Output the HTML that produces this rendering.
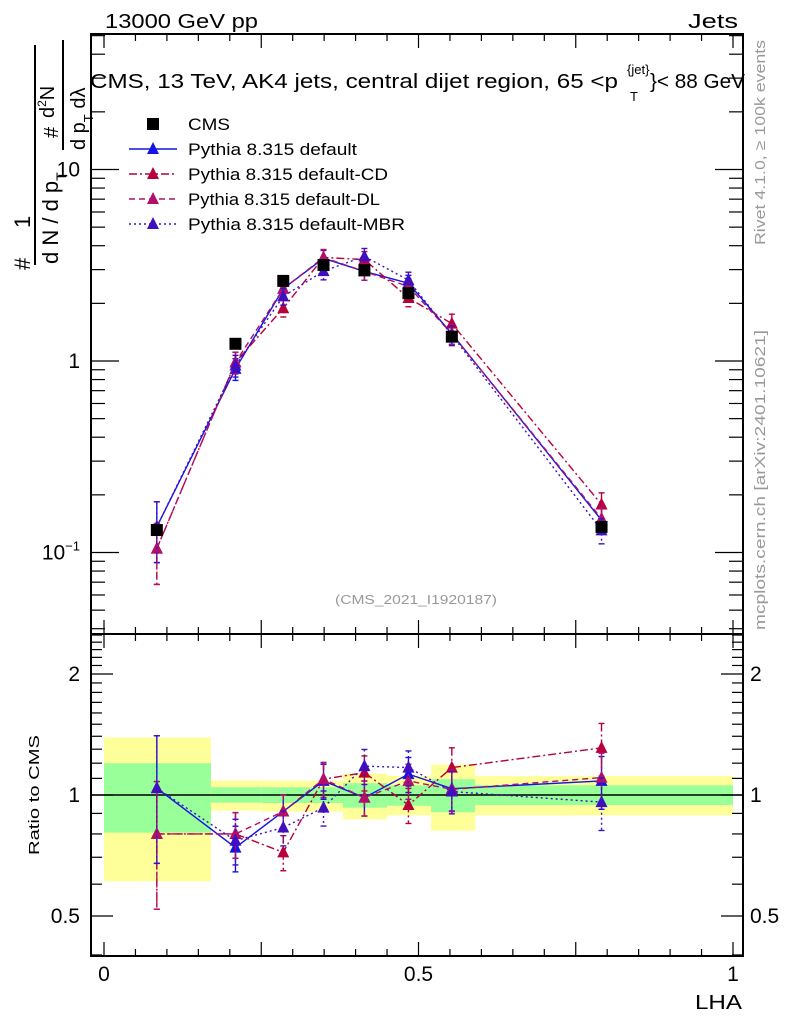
<!DOCTYPE html>
<html><head><meta charset="utf-8"><style>
html,body{margin:0;padding:0;background:#fff;}
svg{display:block;font-family:"Liberation Sans",Arial,sans-serif;}
</style></head><body>
<svg id="c" width="786" height="1024" viewBox="0 0 786 1024" xmlns="http://www.w3.org/2000/svg">
<text x="105" y="28" font-size="20" textLength="153" lengthAdjust="spacingAndGlyphs">13000 GeV pp</text>
<text x="688" y="28" font-size="20" textLength="50" lengthAdjust="spacingAndGlyphs">Jets</text>
<g font-size="20">
<text x="90" y="88" textLength="528" lengthAdjust="spacingAndGlyphs">CMS, 13 TeV, AK4 jets, central dijet region, 65 &lt;p</text>
<text x="627" y="74" font-size="13">{jet}</text>
<text x="630" y="101" font-size="13">T</text>
<text x="650" y="88" textLength="95" lengthAdjust="spacingAndGlyphs">}&lt; 88 GeV</text>
</g>
<text x="335" y="604" font-size="13" fill="#999" textLength="162" lengthAdjust="spacingAndGlyphs">(CMS_2021_I1920187)</text>
<text transform="translate(765,245) rotate(-90)" font-size="15" fill="#999" textLength="205" lengthAdjust="spacingAndGlyphs">Rivet 4.1.0, ≥ 100k events</text>
<text transform="translate(765,630) rotate(-90)" font-size="15" fill="#999" textLength="300" lengthAdjust="spacingAndGlyphs">mcplots.cern.ch [arXiv:2401.10621]</text>
<g font-size="22">
<text transform="translate(30,270) rotate(-90)" text-anchor="start">#</text>
<text transform="translate(30,228) rotate(-90)" text-anchor="start">1</text>
<line x1="35" y1="45" x2="35" y2="265" stroke="#000" stroke-width="2"/>
<text transform="translate(58,264) rotate(-90)">d N / d p<tspan font-size="14" dy="8">T</tspan></text>
<text transform="translate(58,138) rotate(-90)" font-size="20">#</text>
<line x1="63" y1="40" x2="63" y2="150" stroke="#000" stroke-width="2"/>
<text transform="translate(54,118) rotate(-90)" font-size="20">d<tspan font-size="12" dy="-8">2</tspan><tspan dy="8">N</tspan></text>
<text transform="translate(85,150) rotate(-90)" font-size="20">d p<tspan font-size="13" dy="8">T</tspan><tspan dy="-8"> dλ</tspan></text>
</g>
<text transform="translate(39,855) rotate(-90)" font-size="15" textLength="120" lengthAdjust="spacingAndGlyphs">Ratio to CMS</text>
<text x="695" y="1009" font-size="20" textLength="47" lengthAdjust="spacingAndGlyphs">LHA</text>
<g id="bands"></g><g id="grid"></g><g id="marks"></g><g id="legend"></g>
</svg>
<script>
const edges=[0,0.17,0.25,0.32,0.38,0.45,0.52,0.59,1.0];
const yelLo=[0.61,0.915,0.91,0.91,0.87,0.89,0.815,0.89];
const yelHi=[1.39,1.086,1.085,1.085,1.13,1.116,1.19,1.114];
const grnLo=[0.806,0.957,0.955,0.955,0.93,0.94,0.906,0.944];
const grnHi=[1.20,1.045,1.045,1.045,1.07,1.057,1.095,1.057];
const xs=[0.084,0.209,0.285,0.349,0.414,0.484,0.553,0.791];
const cms=[0.131,1.23,2.62,3.17,2.98,2.26,1.34,0.136];
const rDefault=[1.04,0.74,0.91,1.084,0.985,1.127,1.037,1.084];
const rCD=[0.80,0.80,0.72,1.095,1.137,0.944,1.17,1.31];
const rDL=[0.80,0.80,0.91,1.095,0.985,1.084,1.033,1.105];
const rMBR=[1.04,0.77,0.83,0.93,1.18,1.17,1.02,0.96];
const relErr=[0.35,0.13,0.1,0.1,0.1,0.1,0.12,0.15];
const X0=91,X1=743,T=34,M=634,B=956;
const NS="http://www.w3.org/2000/svg";
function xp(v){return 104+629*v;}
function ym(v){return 361-191.5*Math.log10(v);}
function yr(v){return 795-121*Math.log2(v);}
function mk(tag,at,par){const e=document.createElementNS(NS,tag);for(const k in at)e.setAttribute(k,at[k]);document.getElementById(par).appendChild(e);return e;}
for(let i=0;i<edges.length-1;i++){
 const y=mk('rect',{x:xp(edges[i]),y:yr(yelHi[i]),width:xp(edges[i+1])-xp(edges[i]),height:yr(yelLo[i])-yr(yelHi[i]),fill:'#ffff99'},'bands');
 
 
 const g=mk('rect',{x:xp(edges[i]),y:yr(grnHi[i]),width:xp(edges[i+1])-xp(edges[i]),height:yr(grnLo[i])-yr(grnHi[i]),fill:'#99ff99'},'bands');
 
 
}
mk('line',{x1:X0,x2:X1,y1:yr(1),y2:yr(1),stroke:'#000','stroke-width':1.5},'grid');
for(const [a,b] of [[T,M],[M,B]]){const f=mk('rect',{x:X0,y:a,width:X1-X0,height:b-a,fill:'none',stroke:'#000','stroke-width':2},'grid');
 
 }
for(let i=0;i<=20;i++){const v=i*0.05;const L=(i%5==0)?14:7;const x=xp(v);
 for(const [y,d] of [[T,1],[M,-1],[M,1],[B,-1]]) mk('line',{x1:x,x2:x,y1:y,y2:y+d*L,stroke:'#000','stroke-width':1.2},'grid');}
[['0',0],['0.5',0.5],['1',1]].forEach(([t,v])=>{const e=mk('text',{x:xp(v),y:981,'font-size':21,'text-anchor':'middle'},'grid');e.textContent=t;
 
 });
for(let d=-2;d<=1;d++)for(let m=1;m<10;m++){const v=m*Math.pow(10,d);const y=ym(v);if(y<T||y>M)continue;const L=m==1?28:14;
 mk('line',{x1:X0,x2:X0+L,y1:y,y2:y,stroke:'#000','stroke-width':1.2},'grid');mk('line',{x1:X1,x2:X1-L,y1:y,y2:y,stroke:'#000','stroke-width':1.2},'grid');}
[['10',10],['1',1]].forEach(([t,v])=>{const e=mk('text',{x:80,y:ym(v)+7,'font-size':21,'text-anchor':'end'},'grid');e.textContent=t;
 
 });
{const e=mk('text',{x:80,y:ym(0.1)+7,'font-size':21,'text-anchor':'end'},'grid');e.innerHTML='10<tspan font-size="13" dy="-9">−1</tspan>';
 
 }
for(const v of [0.4,0.5,0.6,0.7,0.8,0.9,1,1.1,1.2,1.3,1.4,1.5,1.6,1.7,1.8,1.9,2,2.1,2.2,2.3,2.4,2.5]){const y=yr(v);if(y<M||y>B)continue;const L=[0.5,1,2].includes(v)?22:11;
 mk('line',{x1:X0,x2:X0+L,y1:y,y2:y,stroke:'#000','stroke-width':1.2},'grid');mk('line',{x1:X1,x2:X1-L,y1:y,y2:y,stroke:'#000','stroke-width':1.2},'grid');}
[['2',2],['1',1],['0.5',0.5]].forEach(([t,v])=>{for(const [x,a] of [[80,'end'],[750,'start']]){const e=mk('text',{x:x,y:yr(v)+7,'font-size':21,'text-anchor':a},'grid');e.textContent=t;
 
 }});
const series=[
 {name:'default',r:rDefault,c:'#1414e6',dash:''},
 {name:'default-CD',r:rCD,c:'#b8003c',dash:'8,3,2,3'},
 {name:'default-DL',r:rDL,c:'#b0106a',dash:'6,4'},
 {name:'default-MBR',r:rMBR,c:'#4010c0',dash:'2,3'}];
function tri(x,y,c,par,nm){const t=mk('polygon',{points:`${x},${y-7} ${x-6},${y+5} ${x+6},${y+5}`,fill:c},par);
 
 }
series.forEach(s=>{
 const mainPts=xs.map((x,i)=>[xp(x),ym(cms[i]*s.r[i])]);
 const ratPts=xs.map((x,i)=>[xp(x),yr(s.r[i])]);
 for(const [pts,isMain] of [[mainPts,1],[ratPts,0]]){
  const p=mk('polyline',{points:pts.map(p=>p.join(',')).join(' '),fill:'none',stroke:s.c,'stroke-width':1.4,'stroke-dasharray':s.dash},'marks');
  
  
  xs.forEach((x,i)=>{const v=isMain?cms[i]*s.r[i]:s.r[i];const e=relErr[i];
   const f=isMain?ym:yr;const ya=f(v*(1+e)),yb=f(v*(1-e));
   mk('line',{x1:xp(x),x2:xp(x),y1:ya,y2:yb,stroke:s.c,'stroke-width':1.4,'stroke-dasharray':s.dash},'marks');
   mk('line',{x1:xp(x)-3,x2:xp(x)+3,y1:ya,y2:ya,stroke:s.c,'stroke-width':1.4},'marks');
   mk('line',{x1:xp(x)-3,x2:xp(x)+3,y1:yb,y2:yb,stroke:s.c,'stroke-width':1.4},'marks');
   tri(xp(x),f(v),s.c,'marks','point-'+s.name);});
 }
});
xs.forEach((x,i)=>{const r=mk('rect',{x:xp(x)-6,y:ym(cms[i])-6,width:12,height:12,fill:'#000'},'marks');
 
 });
const legLabels=['CMS','Pythia 8.315 default','Pythia 8.315 default-CD','Pythia 8.315 default-DL','Pythia 8.315 default-MBR'];
const legLen=[42,169,200,192,217];
legLabels.forEach((t,i)=>{const y=124+i*25;
 if(i==0){mk('rect',{x:147,y:y-6,width:12,height:12,fill:'#000'},'legend');}
 else{const s=series[i-1];mk('line',{x1:129,x2:177,y1:y,y2:y,stroke:s.c,'stroke-width':1.4,'stroke-dasharray':s.dash},'legend');tri(153,y,s.c,'legend','legend-marker');}
 const e=mk('text',{x:188,y:y+6,'font-size':17,textLength:legLen[i],lengthAdjust:'spacingAndGlyphs'},'legend');e.textContent=t;
 
 });
</script>
</body></html>
